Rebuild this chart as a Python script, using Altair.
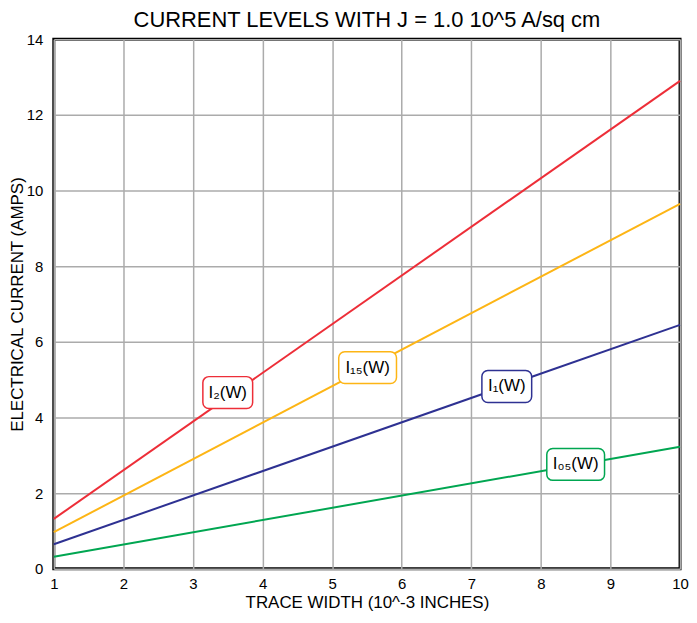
import altair as alt
import pandas as pd

widths = [1, 10]
i2 = [1.32, 12.9]
i15 = [0.97, 9.65]
i1 = [0.65, 6.45]
i05 = [0.32, 3.23]

series_names = ["I2", "I15", "I1", "I05"]
series_values = [i2, i15, i1, i05]
colors = ["#ED2E38", "#FDB515", "#2E3192", "#00A651"]

label_texts = ["I\u2082(W)", "I\u2081\u2085(W)", "I\u2081(W)", "I\u2080\u2085(W)"]
label_x = [3.5, 5.51, 7.51, 8.5]
label_y = [4.66, 5.32, 4.82, 2.76]
box_w = [50, 58, 50, 58]

rows = []
for name, vals in zip(series_names, series_values):
    for w, v in zip(widths, vals):
        rows.append({"series": name, "width": w, "current": v})
df = pd.DataFrame(rows)

xscale = alt.Scale(domain=[1, 10], nice=False)
yscale = alt.Scale(domain=[0, 14], nice=False)

lines = alt.Chart(df).mark_line(strokeWidth=2).encode(
    x=alt.X("width:Q", scale=xscale,
            axis=alt.Axis(title="TRACE WIDTH (10^-3 INCHES)", values=list(range(1, 11)), format="d",
                          ticks=False, domain=False, labelPadding=8, titlePadding=3,
                          labelFlush=False, gridColor="#ababab", gridWidth=1.5)),
    y=alt.Y("current:Q", scale=yscale,
            axis=alt.Axis(title="ELECTRICAL CURRENT (AMPS)", values=list(range(0, 15, 2)), format="d",
                          ticks=False, domain=False, labelPadding=11, titlePadding=0,
                          labelFlush=False, gridColor="#ababab", gridWidth=1.5)),
    color=alt.Color("series:N", scale=alt.Scale(domain=series_names, range=colors), legend=None),
)

layers = [lines]
for t, lx, ly, bw, c in zip(label_texts, label_x, label_y, box_w, colors):
    ldf = pd.DataFrame({"width": [lx], "current": [ly], "text": [t]})
    box = alt.Chart(ldf).mark_rect(width=bw, height=32, cornerRadius=6, fill="white",
                                   stroke=c, strokeWidth=1.5).encode(
        x=alt.X("width:Q", scale=xscale), y=alt.Y("current:Q", scale=yscale))
    txt = alt.Chart(ldf).mark_text(fontSize=17, font="Liberation Sans", color="black").encode(
        x=alt.X("width:Q", scale=xscale), y=alt.Y("current:Q", scale=yscale), text="text:N")
    layers += [box, txt]

chart = alt.layer(*layers).properties(
    width=629, height=532,
    title=alt.TitleParams("CURRENT LEVELS WITH J = 1.0 10^5 A/sq cm", fontSize=22,
                          fontWeight="normal", font="Liberation Sans", color="black", offset=0),
    padding={"left": 0, "top": 0, "right": 0, "bottom": 0},
).configure_view(stroke="black", strokeWidth=3).configure_axis(
    labelFont="Liberation Sans", titleFont="Liberation Sans", labelFontSize=15,
    titleFontSize=17, titleFontWeight="normal", labelColor="black", titleColor="black"
)

chart.save("out.html", embed_options={"renderer": "svg", "actions": False})
